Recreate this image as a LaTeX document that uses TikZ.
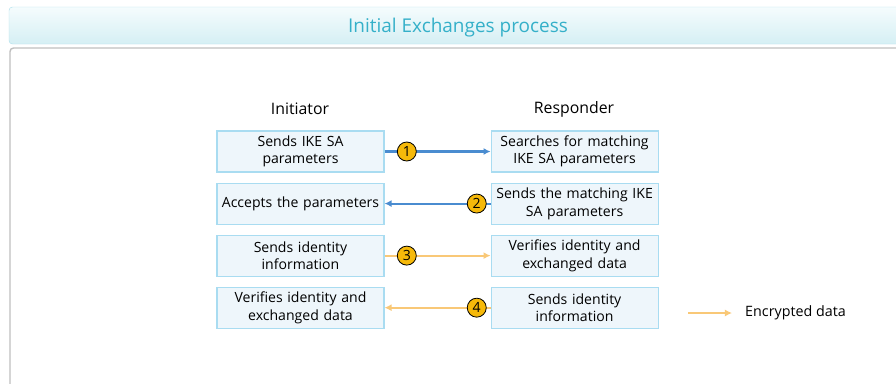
\documentclass[tikz,border=0pt]{standalone}
\usepackage{fontspec}
\setmainfont{Open Sans}
\usetikzlibrary{positioning,arrows.meta}

\definecolor{boxfill}{HTML}{EEF6FB}
\definecolor{boxline}{HTML}{A9DCF1}
\definecolor{bluearr}{HTML}{4A8CD0}
\definecolor{orangearr}{HTML}{F9C877}
\definecolor{numfill}{HTML}{F6B90A}
\definecolor{titletxt}{HTML}{35B0C9}
\definecolor{titletop}{HTML}{F5FCFD}
\definecolor{titlebot}{HTML}{D5EFF4}
\definecolor{titleline}{HTML}{B3E2EE}

\begin{document}
\begin{tikzpicture}[x=0.03cm,y=-0.03cm,
  stepbox/.style={draw=boxline,fill=boxfill,line width=0.9pt,minimum width=5.01cm,
    minimum height=1.23cm,text width=4.9cm,align=center,inner sep=0pt,font=\fontsize{12}{15}\selectfont},
  num/.style={circle,draw=black,fill=numfill,minimum size=0.57cm,inner sep=0pt,line width=0.7pt,
    font=\fontsize{12}{14}\selectfont},
  blueflow/.style={draw=bluearr,line width=1.8pt,-{Latex[length=6pt,width=6pt]}},
  encflow/.style={draw=orangearr,line width=1.8pt,-{Latex[length=6pt,width=6pt]}},
  head/.style={font=\fontsize{13.5}{16}\selectfont}]
  \clip (0,0) rectangle (896,383);
  \fill[white] (0,0) rectangle (896,383);

  \shade[top color=titletop,bottom color=titlebot,draw=titleline,rounded corners=3pt]
    (9,7) rectangle (910,44);
  \node[text=titletxt,font=\fontsize{16.2}{18}\selectfont] (title) at (458,28) {Initial Exchanges process};
  \draw[gray!50,line width=1.2pt,rounded corners=3pt] (910,48) -- (10,48) -- (10,395);

  \node[head] (init) at (300,109) {Initiator};
  \node[head] (resp) at (574,109) {Responder};

  \node[stepbox] (l1) at (300.5,151.5) {Sends IKE SA\\parameters};
  \node[stepbox,below=0.3cm of l1] (l2) {Accepts the parameters};
  \node[stepbox,below=0.3cm of l2] (l3) {Sends identity\\information};
  \node[stepbox,below=0.3cm of l3] (l4) {Verifies identity and\\exchanged data};

  \node[stepbox,right=3.18cm of l1] (r1) {Searches for matching\\IKE SA parameters};
  \node[stepbox,right=3.18cm of l2] (r2) {Sends the matching IKE\\SA parameters};
  \node[stepbox,right=3.18cm of l3] (r3) {Verifies identity and\\exchanged data};
  \node[stepbox,right=3.18cm of l4] (r4) {Sends identity\\information};

  \draw[blueflow] (l1) -- node[num,pos=0.21] (n1) {1} (r1);
  \draw[blueflow] (r2) -- node[num,pos=0.13] (n2) {2} (l2);
  \draw[encflow] (l3) -- node[num,pos=0.21] (n3) {3} (r3);
  \draw[encflow] (r4) -- node[num,pos=0.13] (n4) {4} (l4);

  \coordinate (lg) at (688,313);
  \node[right=1.71cm of lg,inner sep=0pt,font=\fontsize{12.2}{14}\selectfont] (enc) {Encrypted data};
  \draw[encflow] (lg) -- ++(44,0);
\end{tikzpicture}
\end{document}
